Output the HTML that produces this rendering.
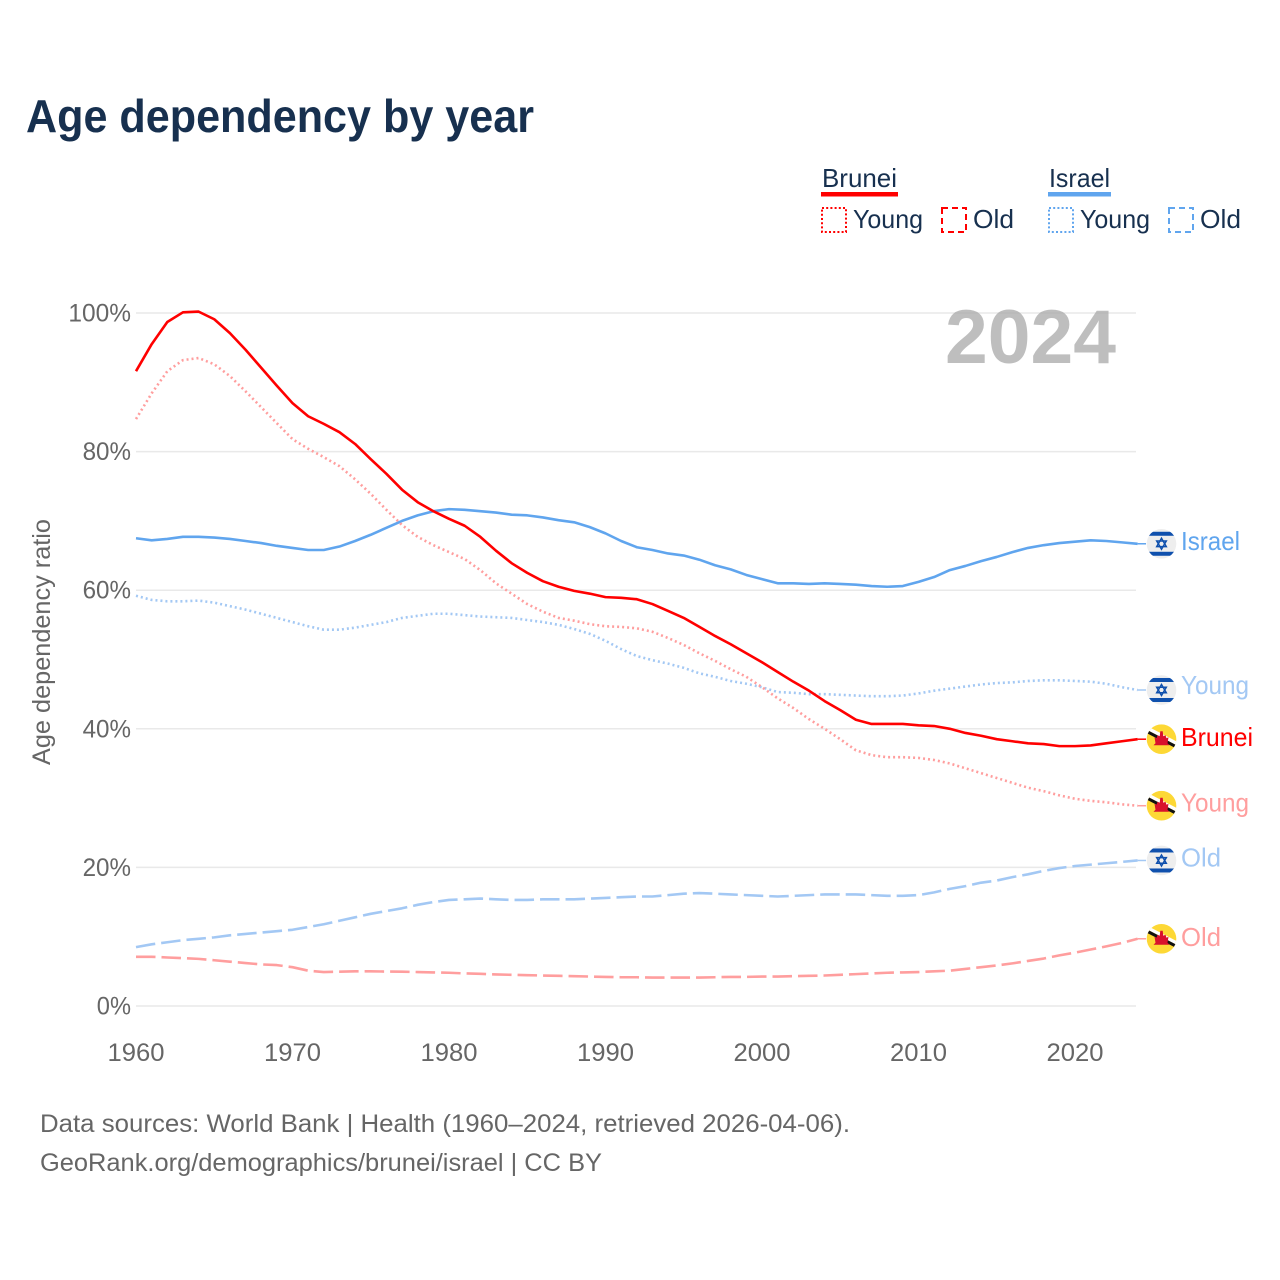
<!DOCTYPE html>
<html lang="en">
<head>
<meta charset="utf-8">
<title>Age dependency by year</title>
<style>
html,body{margin:0;padding:0;background:#fff;}
svg{display:block;font-family:"Liberation Sans","DejaVu Sans",sans-serif;}
</style>
</head>
<body>
<svg id="chart" xmlns="http://www.w3.org/2000/svg" width="1280" height="1280" viewBox="0 0 1280 1280">
  <defs>
    <clipPath id="flag-clip"><circle cx="0" cy="0" r="14.8"></circle></clipPath>
  </defs>
  <rect x="0" y="0" width="1280" height="1280" fill="#ffffff"></rect>
  <text x="26" y="132" font-size="46" font-weight="700" fill="#17304f" textLength="508" lengthAdjust="spacingAndGlyphs">Age dependency by year</text>

  <g fill="#17304f" font-size="26">
    <g>
      <text x="822" y="187" textLength="75" lengthAdjust="spacingAndGlyphs">Brunei</text>
      <rect x="821" y="192" width="77" height="4.5" fill="#ff0000"></rect>
      <rect x="822" y="208" width="24" height="24" fill="none" stroke="#ff0000" stroke-width="2" stroke-dasharray="2 2.2"></rect>
      <text x="853" y="228" textLength="70" lengthAdjust="spacingAndGlyphs">Young</text>
      <rect x="942" y="208" width="24" height="24" fill="none" stroke="#ff0000" stroke-width="2" stroke-dasharray="6 4"></rect>
      <text x="973" y="228" textLength="41" lengthAdjust="spacingAndGlyphs">Old</text>
    </g>
    <g>
      <text x="1049" y="187" textLength="61" lengthAdjust="spacingAndGlyphs">Israel</text>
      <rect x="1048" y="192" width="63" height="4.5" fill="#60a5ee"></rect>
      <rect x="1049" y="208" width="24" height="24" fill="none" stroke="#60a5ee" stroke-width="2" stroke-dasharray="2 2.2"></rect>
      <text x="1080" y="228" textLength="70" lengthAdjust="spacingAndGlyphs">Young</text>
      <rect x="1169" y="208" width="24" height="24" fill="none" stroke="#60a5ee" stroke-width="2" stroke-dasharray="6 4"></rect>
      <text x="1200" y="228" textLength="41" lengthAdjust="spacingAndGlyphs">Old</text>
    </g>
  </g>

  <g id="grid"></g>
  <g id="ticks"></g>
  <text transform="translate(50 642) rotate(-90)" text-anchor="middle" font-size="25" fill="#666666" textLength="246" lengthAdjust="spacingAndGlyphs">Age dependency ratio</text>
  <text x="945" y="363" font-size="76" font-weight="700" fill="#a8a8a8" fill-opacity="0.75" textLength="171" lengthAdjust="spacingAndGlyphs">2024</text>
  <g id="series"></g>
  <g id="end-labels"></g>

  <text x="40" y="1132" font-size="25" fill="#666666" textLength="810" lengthAdjust="spacingAndGlyphs">Data sources: World Bank | Health (1960–2024, retrieved 2026-04-06).</text>
  <text x="40" y="1171" font-size="25" fill="#666666" textLength="562" lengthAdjust="spacingAndGlyphs">GeoRank.org/demographics/brunei/israel | CC BY</text>
</svg>

<script>
const firstYear = 1960;
const xTickYears = [1960, 1970, 1980, 1990, 2000, 2010, 2020];
const yTickValues = [0, 20, 40, 60, 80, 100];

const israelTotal = [67.5,67.2,67.4,67.7,67.7,67.6,67.4,67.1,66.8,66.4,66.1,65.8,65.8,66.3,67.1,68,69,70,70.8,71.4,71.7,71.6,71.4,71.2,70.9,70.8,70.5,70.1,69.8,69.1,68.2,67.1,66.2,65.8,65.3,65,64.4,63.6,63,62.2,61.6,61,61,60.9,61,60.9,60.8,60.6,60.5,60.6,61.2,61.9,62.9,63.5,64.2,64.8,65.5,66.1,66.5,66.8,67,67.2,67.1,66.9,66.7];
const israelYoung = [59.2,58.6,58.4,58.4,58.5,58.2,57.7,57.2,56.6,56,55.4,54.8,54.3,54.3,54.6,55,55.4,56,56.3,56.6,56.6,56.4,56.2,56.1,56,55.7,55.4,55,54.4,53.7,52.7,51.5,50.5,49.9,49.4,48.8,48,47.5,46.9,46.5,46,45.3,45.2,45,45,44.9,44.8,44.7,44.7,44.8,45.1,45.5,45.8,46.1,46.4,46.6,46.7,46.9,47,47,46.9,46.8,46.5,46,45.6];
const israelOld = [8.5,8.9,9.2,9.5,9.7,9.9,10.2,10.4,10.6,10.8,11,11.4,11.8,12.3,12.8,13.3,13.7,14.1,14.6,15,15.3,15.4,15.5,15.4,15.3,15.3,15.4,15.4,15.4,15.5,15.6,15.7,15.8,15.8,16,16.2,16.3,16.2,16.1,16,15.9,15.8,15.9,16,16.1,16.1,16.1,16,15.9,15.9,16,16.4,16.9,17.3,17.8,18.1,18.6,19,19.5,19.9,20.2,20.4,20.6,20.8,21];
const bruneiTotal = [91.6,95.5,98.7,100.1,100.2,99.1,97.1,94.7,92.1,89.5,87,85.1,84,82.8,81.1,78.9,76.8,74.5,72.7,71.4,70.3,69.3,67.7,65.7,63.9,62.5,61.3,60.5,59.9,59.5,59,58.9,58.7,58,57,56,54.7,53.4,52.2,50.9,49.6,48.2,46.8,45.5,44,42.7,41.3,40.7,40.7,40.7,40.5,40.4,40,39.4,39,38.5,38.2,37.9,37.8,37.5,37.5,37.6,37.9,38.2,38.5];
const bruneiYoung = [84.7,88.4,91.6,93.2,93.5,92.6,90.9,88.7,86.4,84.1,81.8,80.4,79.2,77.9,76,73.9,71.6,69.4,67.7,66.5,65.5,64.5,62.9,61,59.5,58,56.9,56,55.6,55.1,54.8,54.7,54.5,54,53.1,52.1,50.9,49.8,48.6,47.5,46,44.4,43,41.4,40,38.5,36.9,36.2,35.9,35.9,35.8,35.5,35,34.3,33.6,32.9,32.2,31.5,31,30.4,29.9,29.6,29.4,29.1,28.9];
const bruneiOld = [7.1,7.1,7,6.9,6.8,6.6,6.4,6.2,6,5.9,5.6,5.1,4.9,4.95,5,5,4.97,4.95,4.9,4.85,4.8,4.7,4.65,4.55,4.5,4.45,4.4,4.35,4.3,4.25,4.2,4.15,4.15,4.1,4.1,4.1,4.1,4.15,4.2,4.2,4.25,4.25,4.3,4.35,4.4,4.5,4.6,4.7,4.8,4.85,4.9,5,5.1,5.35,5.6,5.85,6.15,6.5,6.85,7.3,7.7,8.15,8.6,9.1,9.7];

const seriesOrder = ['israel-total','israel-young','israel-old','brunei-total','brunei-young','brunei-old'];
const seriesValues = [israelTotal, israelYoung, israelOld, bruneiTotal, bruneiYoung, bruneiOld];
const seriesLabels = ['Israel','Young','Old','Brunei','Young','Old'];

const NS = 'http://www.w3.org/2000/svg';
const seriesColors = ['#60a5ee','#a3c8f4','#a3c8f4','#ff0000','#ff9e9e','#ff9e9e'];
const seriesDashes = ['none','2 3','19.5 6','none','2 3','19.5 6'];
const seriesFlags = ['israel','israel','israel','brunei','brunei','brunei'];
const labelLayout = {
  'israel-total': {width: 59, nudge: 6},
  'israel-young': {width: 68, nudge: 4},
  'israel-old': {width: 40, nudge: 6},
  'brunei-total': {width: 72, nudge: 7},
  'brunei-young': {width: 68, nudge: 6},
  'brunei-old': {width: 40, nudge: 7}
};

function xScale(year) { return 136 + (year - 1960) * 15.65; }
function yScale(value) { return 1006 - value * 6.93; }
function svgEl(tag, attrs, parent) {
  const el = document.createElementNS(NS, tag);
  for (const k in attrs) el.setAttribute(k, attrs[k]);
  parent.appendChild(el);
  return el;
}

const grid = document.getElementById('grid');
const ticks = document.getElementById('ticks');
yTickValues.forEach(function (v) {
  const line = svgEl('line', {x1: 136, x2: 1136, y1: yScale(v), y2: yScale(v), stroke: '#e9e9e9', 'stroke-width': 1.5}, grid);
  
  
  const label = svgEl('text', {x: 131, y: yScale(v) + 8.5, 'text-anchor': 'end', 'font-size': 25, fill: '#666666', textLength: 14.2 * String(v).length + 20, lengthAdjust: 'spacingAndGlyphs'}, ticks);
  label.textContent = v + '%';
  
  
});
xTickYears.forEach(function (yr) {
  const label = svgEl('text', {x: xScale(yr), y: 1061, 'text-anchor': 'middle', 'font-size': 25, fill: '#666666', textLength: 57, lengthAdjust: 'spacingAndGlyphs'}, ticks);
  label.textContent = String(yr);
  
  
});

const seriesGroup = document.getElementById('series');
const endGroup = document.getElementById('end-labels');

function drawFlag(kind, cx, cy, parent) {
  const g = svgEl('g', {transform: 'translate(' + cx + ' ' + cy + ')', 'clip-path': 'url(#flag-clip)'}, parent);
  if (kind === 'israel') {
    svgEl('rect', {x: -15, y: -15, width: 30, height: 30, fill: '#eeeeee'}, g);
    svgEl('rect', {x: -15, y: -12, width: 30, height: 4, fill: '#0f50ad'}, g);
    svgEl('rect', {x: -15, y: 8, width: 30, height: 4, fill: '#0f50ad'}, g);
    svgEl('polygon', {points: '0,-5.5 4.8,2.8 -4.8,2.8', fill: 'none', stroke: '#0f50ad', 'stroke-width': 1.5}, g);
    svgEl('polygon', {points: '0,5.5 4.8,-2.8 -4.8,-2.8', fill: 'none', stroke: '#0f50ad', 'stroke-width': 1.5}, g);
  } else {
    svgEl('rect', {x: -15, y: -15, width: 30, height: 30, fill: '#fdd835'}, g);
    svgEl('polygon', {points: '-15,-13.4 15,2.2 15,6 -15,-9.6', fill: '#ffffff'}, g);
    svgEl('polygon', {points: '-15,-9.6 15,6 15,9.4 -15,-6.2', fill: '#111111'}, g);
    svgEl('polygon', {points: '-1.2,-8 1.2,-8 1.8,-3 4,-4 5,-1 7,-2 6,4 8,6 -8,6 -6,4 -7,-2 -5,-1 -4,-4 -1.8,-3', fill: '#d8112c'}, g);
  }
  return g;
}

seriesOrder.forEach(function (key, i) {
  const values = seriesValues[i];
  const points = values.map(function (v, j) { return xScale(firstYear + j).toFixed(2) + ',' + yScale(v).toFixed(2); });
  const attrs = {points: points.join(' '), fill: 'none', stroke: seriesColors[i], 'stroke-width': 2.6, 'stroke-linejoin': 'round'};
  if (seriesDashes[i] !== 'none') attrs['stroke-dasharray'] = seriesDashes[i];
  const line = svgEl('polyline', attrs, seriesGroup);
  
  

  const lastValue = values[values.length - 1];
  const endY = yScale(lastValue);
  const lastX = xScale(firstYear + values.length - 1);
  const connector = svgEl('line', {x1: lastX, x2: 1146, y1: endY, y2: endY, stroke: seriesColors[i], 'stroke-width': 1.5}, endGroup);
  
  

  const flag = drawFlag(seriesFlags[i], 1161.5, endY, endGroup);
  
  

  const label = svgEl('text', {x: 1181, y: endY + labelLayout[key].nudge, 'font-size': 26, fill: seriesColors[i], textLength: labelLayout[key].width, lengthAdjust: 'spacingAndGlyphs'}, endGroup);
  label.textContent = seriesLabels[i];
  
  
});
</script>
</body>
</html>
